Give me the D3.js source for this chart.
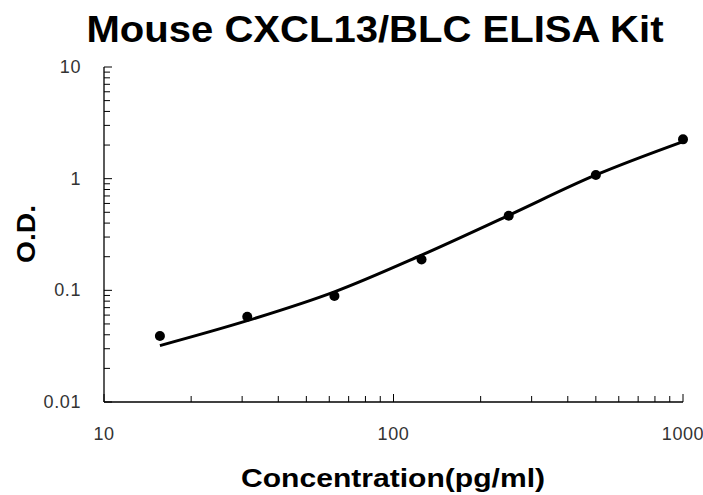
<!DOCTYPE html>
<html><head><meta charset="utf-8">
<script src="https://cdn.jsdelivr.net/npm/d3@7"></script>
<style>html,body{margin:0;padding:0;background:#fff;}svg{display:block;}</style>
</head><body><svg id="c" width="703" height="495"></svg>
<script>
const title = "Mouse CXCL13/BLC ELISA Kit";
const xLabel = "Concentration(pg/ml)";
const yLabel = "O.D.";
const concentrations = [15.6, 31.25, 62.5, 125, 250, 500, 1000];
const odValues = [0.039, 0.058, 0.089, 0.189, 0.466, 1.08, 2.25];
const curveConc = [15.6, 31.25, 62.5, 125, 250, 500, 1000];
const curveOD = [0.032, 0.0535, 0.097, 0.207, 0.47, 1.08, 2.15];
const xTickLabels = [10, 100, 1000];
const yTickLabels = [0.01, 0.1, 1, 10];

const svg = d3.select("#c");
const x = d3.scaleLog().domain([10, 1000]).range([104, 683]);
const y = d3.scaleLog().domain([0.01, 10]).range([402, 67]);

function minorTicks(lo, hi) {
  const out = [];
  for (let d = lo; d < hi; d *= 10) for (let k = 2; k <= 9; k++) out.push(d * k);
  return out;
}

// axes
const gx = svg.append("g");
gx.append("line").attr("x1", x(10)).attr("x2", x(1000)).attr("y1", 402).attr("y2", 402).attr("stroke", "#000").attr("stroke-width", 1.3);
gx.selectAll("line.mn").data(minorTicks(10, 1000)).enter().append("line")
  .attr("x1", d => x(d)).attr("x2", d => x(d)).attr("y1", 402).attr("y2", 396).attr("stroke", "#000");
gx.selectAll("line.mj").data(xTickLabels).enter().append("line")
  .attr("x1", d => x(d)).attr("x2", d => x(d)).attr("y1", 402).attr("y2", 394).attr("stroke", "#000");
gx.selectAll("text").data(xTickLabels).enter().append("text")
  .attr("x", d => x(d)).attr("y", 440).attr("text-anchor", "middle")
  .attr("font-family", "Liberation Sans, Arial, sans-serif").attr("font-size", 18).attr("letter-spacing", 0.6).attr("fill", "#333")
  .text(d => d);

const gy = svg.append("g");
gy.append("line").attr("x1", 104).attr("x2", 104).attr("y1", y(10)).attr("y2", y(0.01)).attr("stroke", "#000").attr("stroke-width", 1.3);
gy.selectAll("line.mn").data(minorTicks(0.01, 10)).enter().append("line")
  .attr("x1", 104).attr("x2", 110).attr("y1", d => y(d)).attr("y2", d => y(d)).attr("stroke", "#000");
gy.selectAll("line.mj").data(yTickLabels).enter().append("line")
  .attr("x1", 104).attr("x2", 112).attr("y1", d => y(d)).attr("y2", d => y(d)).attr("stroke", "#000");
gy.selectAll("text").data(yTickLabels).enter().append("text")
  .attr("x", 81).attr("y", d => y(d) + 6).attr("text-anchor", "end")
  .attr("font-family", "Liberation Sans, Arial, sans-serif").attr("font-size", 18).attr("letter-spacing", 0.6).attr("fill", "#333")
  .text(d => d);

// curve
const line = d3.line().x(d => x(d[0])).y(d => y(d[1])).curve(d3.curveCatmullRom.alpha(0.5));
svg.append("path").datum(curveConc.map((c, i) => [c, curveOD[i]]))
  .attr("d", line).attr("fill", "none").attr("stroke", "#000").attr("stroke-width", 3);

// points
svg.selectAll("circle").data(concentrations.map((c, i) => [c, odValues[i]])).enter().append("circle")
  .attr("cx", d => x(d[0])).attr("cy", d => y(d[1])).attr("r", 5).attr("fill", "#000");

// titles
svg.append("text").attr("x", 375).attr("y", 42).attr("text-anchor", "middle")
  .attr("font-family", "Liberation Sans, Arial, sans-serif").attr("font-weight", "bold").attr("font-size", 36)
  .attr("textLength", 577).attr("lengthAdjust", "spacingAndGlyphs")
  .text(title);
svg.append("text").attr("x", 393).attr("y", 487).attr("text-anchor", "middle")
  .attr("font-family", "Liberation Sans, Arial, sans-serif").attr("font-weight", "bold").attr("font-size", 26)
  .attr("textLength", 304).attr("lengthAdjust", "spacingAndGlyphs")
  .text(xLabel);
svg.append("text").attr("transform", "translate(35,234) rotate(-90)").attr("text-anchor", "middle")
  .attr("font-family", "Liberation Sans, Arial, sans-serif").attr("font-weight", "bold").attr("font-size", 26)
  .attr("textLength", 58).attr("lengthAdjust", "spacingAndGlyphs")
  .text(yLabel);
</script></body></html>
